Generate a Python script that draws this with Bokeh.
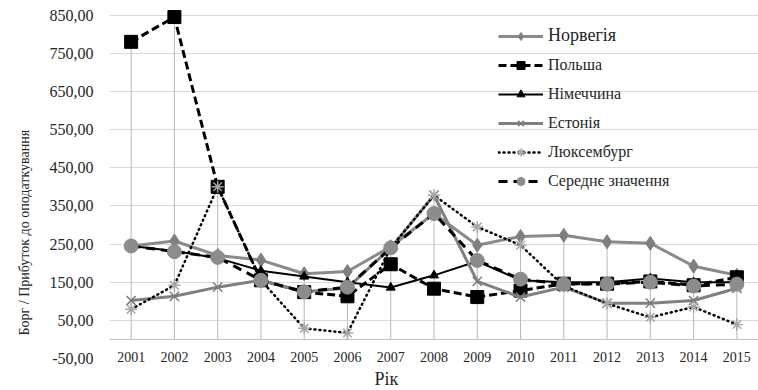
import numpy as np
from bokeh.plotting import figure
from bokeh.models import FixedTicker, Legend, LegendItem, Span, Title
from bokeh.embed import file_html
from bokeh.resources import INLINE

# Debt / profit-before-tax ratio by year
years = [2001, 2002, 2003, 2004, 2005, 2006, 2007, 2008,
         2009, 2010, 2011, 2012, 2013, 2014, 2015]
norway = [245, 258, 220, 208, 172, 178, 243, 330, 247, 270, 273, 256, 252, 192, 168]
poland = [780, 845, 400, 155, 124, 113, 197, 133, 111, 128, 146, 146, 152, 142, 163]
germany = [245, 232, 213, 180, 165, 150, 136, 168, 205, 155, 150, 150, 160, 150, 150]
estonia = [102, 113, 137, 155, 125, 135, 240, 378, 152, 111, 137, 95, 95, 102, 134]
luxembourg = [79, 142, 400, 155, 29, 17, 240, 378, 295, 247, 140, 94, 58, 85, 39]
average = [245, 230, 215, 155, 125, 137, 240, 330, 207, 158, 145, 145, 150, 140, 145]

y_ticks = [-50, 50, 150, 250, 350, 450, 550, 650, 750, 850]
y_tick_labels = ["-50,00", "50,00", "150,00", "250,00", "350,00",
                 "450,00", "550,00", "650,00", "750,00", "850,00"]
year_labels = [str(y) for y in years]

names = ["Норвегія", "Польша", "Німеччина", "Естонія", "Люксембург", "Середнє значення"]
x_title = "Рік"
y_title = "Борг / Прибуток до оподаткування"

FONT = "Liberation Serif"
TEXT = "#262626"

# a little headroom above 850 so the top markers are not clipped
p = figure(width=758, height=390, output_backend="svg", toolbar_location=None,
           x_range=(2000.5, 2015.5), y_range=(-50, 870),
           min_border_left=108, min_border_right=0,
           min_border_top=7, min_border_bottom=32)
p.outline_line_color = None
p.background_fill_color = "white"
p.border_fill_color = "white"

# axes
p.xaxis.ticker = FixedTicker(ticks=years)
p.xaxis.major_label_overrides = dict(zip(years, year_labels))
p.yaxis.ticker = FixedTicker(ticks=y_ticks)
p.yaxis.major_label_overrides = dict(zip(y_ticks, y_tick_labels))
for ax in (p.xaxis, p.yaxis):
    ax.axis_line_color = None
    ax.major_tick_line_color = None
    ax.minor_tick_line_color = None
    ax.major_label_text_font = FONT
    ax.major_label_text_color = TEXT
p.xaxis.major_label_text_font_size = "14px"
p.xaxis.major_label_standoff = -13
p.yaxis.major_label_text_font_size = "16px"
p.yaxis.major_label_standoff = 10

p.xgrid.grid_line_color = None
p.ygrid.ticker = FixedTicker(ticks=y_ticks)
p.ygrid.grid_line_color = "#d9d9d9"
p.ygrid.grid_line_width = 1

# category axis line at zero
p.add_layout(Span(location=0, dimension="width", line_color="#bfbfbf", line_width=1))

# drop lines from the highest value of each year down to the axis
tops = np.max(np.vstack([norway, poland, germany, estonia, luxembourg, average]), axis=0)
p.segment(x0=years, y0=0, x1=years, y1=tops, line_color="#b8b8b8", line_width=1)

# series
r_n_l = p.line(years, norway, line_color="#8a8a8a", line_width=3)
r_n_m = p.scatter(years, norway, marker="diamond", size=14,
                  fill_color="#7f7f7f", line_color="#7f7f7f")

r_p_l = p.line(years, poland, line_color="black", line_width=3, line_dash="8 4")
r_p_m = p.scatter(years, poland, marker="square", size=13,
                  fill_color="black", line_color="black")

r_g_l = p.line(years, germany, line_color="black", line_width=2)
r_g_m = p.scatter(years, germany, marker="triangle", size=9,
                  fill_color="black", line_color="black")

r_e_l = p.line(years, estonia, line_color="#808080", line_width=3)
r_e_m = p.scatter(years, estonia, marker="x", size=13,
                  line_color="#7a7a7a", line_width=1.5)

r_l_l = p.line(years, luxembourg, line_color="black", line_width=2.5,
               line_dash="1 4", line_cap="round")
r_l_m = p.scatter(years, luxembourg, marker="asterisk", size=12,
                  line_color="#a6a6a6", line_width=1.5)

r_a_l = p.line(years, average, line_color="black", line_width=3, line_dash="9 6")
r_a_m = p.scatter(years, average, marker="circle", size=14,
                  fill_color="#8c8c8c", line_color="#8c8c8c")


def make_legend(items, loc, font_size, spacing):
    return Legend(items=items, location=loc, orientation="vertical",
                  glyph_width=45, glyph_height=20, label_height=20,
                  label_standoff=5, spacing=spacing, padding=0, margin=0,
                  border_line_color=None, background_fill_alpha=0,
                  label_text_font=FONT, label_text_font_size=font_size,
                  label_text_color=TEXT)


lg1 = make_legend([LegendItem(label=names[0], renderers=[r_n_l, r_n_m])],
                  (389, 312), "18px", 0)
lg2 = make_legend([
    LegendItem(label=names[1], renderers=[r_p_l, r_p_m]),
    LegendItem(label=names[2], renderers=[r_g_l, r_g_m]),
    LegendItem(label=names[3], renderers=[r_e_l, r_e_m]),
    LegendItem(label=names[4], renderers=[r_l_l, r_l_m]),
    LegendItem(label=names[5], renderers=[r_a_l, r_a_m]),
], (389, 167), "16px", 9)
p.add_layout(lg1)
p.add_layout(lg2)

# axis titles
p.add_layout(Title(text=x_title, align="left", offset=265, standoff=4,
                   text_font=FONT, text_font_size="18px", text_color=TEXT,
                   text_font_style="normal"), "below")
p.add_layout(Title(text=y_title, align="left", offset=23, standoff=29,
                   text_font=FONT, text_font_size="14px", text_color=TEXT,
                   text_font_style="normal"), "left")

open("out.html", "w").write(file_html(p, INLINE))
